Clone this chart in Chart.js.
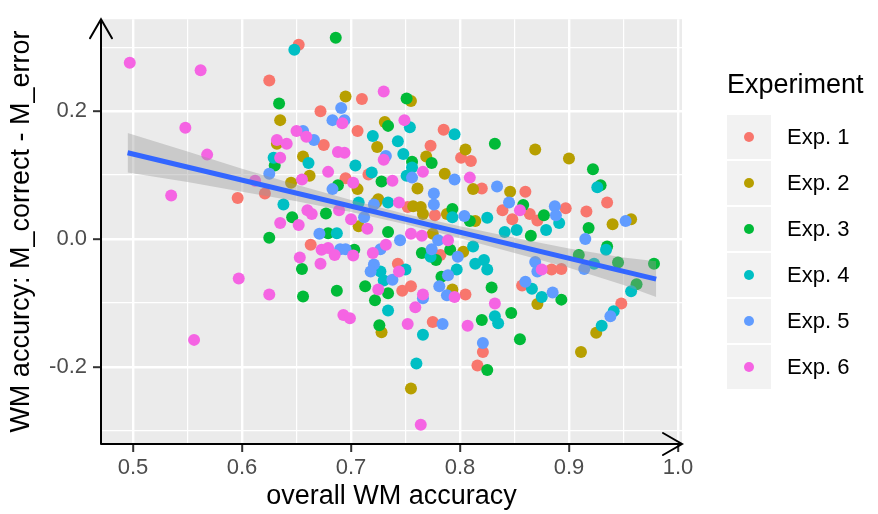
<!DOCTYPE html>
<html>
<head>
<meta charset="utf-8">
<script src="https://cdn.jsdelivr.net/npm/chart.js@4.4.1/dist/chart.umd.min.js"></script>
<style>
  html, body { margin: 0; padding: 0; background: #fff; }
  canvas { display: block; }
</style>
</head>
<body>
<canvas id="wmChart" width="878" height="514"></canvas>
<script>
// values: [overall WM accuracy, M_correct - M_error]
const experiments = ["Exp. 1", "Exp. 2", "Exp. 3", "Exp. 4", "Exp. 5", "Exp. 6"];
const expColors = ["#F8766D", "#B79F00", "#00BA38", "#00BFC4", "#619CFF", "#F564E3"];

const exp1 = [[0.652,0.304],[0.625,0.248],[0.596,0.064],[0.621,0.071],[0.710,0.219],[0.672,0.200],[0.706,0.169],[0.675,0.147],
  [0.716,0.101],[0.695,0.095],[0.663,-0.009],[0.785,0.171],[0.773,0.146],[0.801,0.127],[0.810,0.122],[0.820,0.079],[0.839,0.045],
  [0.848,0.031],[0.860,0.074],[0.864,0.039],[0.871,0.029],[0.897,0.048],[0.916,0.043],[0.935,0.057],[0.884,-0.048],[0.893,-0.047],
  [0.857,-0.073],[0.948,-0.101],[0.743,-0.039],[0.747,-0.081],[0.755,-0.074],[0.775,-0.130],[0.805,-0.087],[0.821,-0.177],
  [0.816,-0.198],[0.752,0.050],[0.777,0.037],[0.782,-0.025]];

const exp2 = [[0.635,0.186],[0.695,0.223],[0.632,0.149],[0.724,0.144],[0.656,0.129],[0.662,0.099],[0.645,0.088],[0.706,0.078],
  [0.707,0.020],[0.725,0.062],[0.728,-0.146],[0.755,0.216],[0.731,0.183],[0.769,0.129],[0.805,0.140],[0.786,0.102],[0.761,0.079],
  [0.812,0.078],[0.846,0.074],[0.723,0.057],[0.757,0.051],[0.764,0.050],[0.766,0.039],[0.788,0.039],[0.814,0.028],[0.869,0.140],
  [0.900,0.126],[0.940,0.023],[0.957,0.031],[0.871,-0.102],[0.925,-0.147],[0.911,-0.177],[0.755,-0.234],[0.775,0.008],
  [0.793,-0.079],[0.803,-0.020]];

const exp3 = [[0.686,0.315],[0.634,0.212],[0.734,0.177],[0.630,0.115],[0.688,0.084],[0.646,0.034],[0.677,0.040],[0.728,0.090],
  [0.625,0.002],[0.679,0.009],[0.703,-0.017],[0.655,-0.047],[0.656,-0.090],[0.687,-0.081],[0.713,-0.074],[0.722,-0.096],
  [0.734,-0.085],[0.726,-0.135],[0.751,0.220],[0.832,0.149],[0.774,0.119],[0.756,0.121],[0.793,0.047],[0.809,0.028],[0.922,0.109],
  [0.929,0.084],[0.858,0.053],[0.877,0.037],[0.918,0.017],[0.865,0.005],[0.935,-0.012],[0.909,-0.025],[0.945,-0.037],
  [0.978,-0.039],[0.893,-0.095],[0.847,-0.116],[0.855,-0.157],[0.962,-0.071],[0.734,0.011],[0.765,-0.022],[0.778,-0.033],
  [0.791,-0.017],[0.783,-0.059],[0.829,-0.076],[0.820,-0.127],[0.825,-0.205]];

const exp4 = [[0.648,0.296],[0.720,0.161],[0.629,0.127],[0.661,0.119],[0.704,0.115],[0.719,0.104],[0.638,0.054],[0.707,0.057],
  [0.734,0.057],[0.687,0.009],[0.727,-0.051],[0.730,-0.065],[0.734,-0.112],[0.754,0.175],[0.795,0.164],[0.743,0.153],[0.748,0.133],
  [0.756,0.112],[0.751,0.099],[0.793,0.034],[0.825,0.033],[0.926,0.081],[0.879,0.014],[0.852,0.014],[0.891,0.025],[0.934,-0.017],
  [0.923,-0.039],[0.866,-0.078],[0.875,-0.091],[0.957,-0.082],[0.941,-0.113],[0.930,-0.136],[0.773,-0.028],[0.797,-0.048],
  [0.814,-0.039],[0.822,-0.033],[0.825,-0.048],[0.750,-0.048],[0.760,-0.195],[0.766,-0.150],[0.812,-0.012],[0.832,-0.121],
  [0.835,-0.132],[0.841,0.011]];

const exp5 = [[0.691,0.205],[0.683,0.186],[0.694,0.186],[0.656,0.169],[0.666,0.155],[0.732,0.130],[0.625,0.102],[0.683,0.078],
  [0.721,0.054],[0.712,0.034],[0.671,0.008],[0.690,-0.016],[0.695,-0.016],[0.721,-0.040],[0.718,-0.051],[0.756,0.096],[0.795,0.093],
  [0.834,0.082],[0.776,0.071],[0.776,0.054],[0.804,0.036],[0.845,0.057],[0.887,0.051],[0.888,0.037],[0.952,0.028],[0.915,0.000],
  [0.914,-0.047],[0.869,-0.036],[0.871,-0.051],[0.860,-0.067],[0.885,-0.084],[0.938,-0.121],[0.745,-0.002],[0.780,-0.002],
  [0.727,-0.016],[0.774,-0.016],[0.798,-0.028],[0.738,-0.064],[0.789,-0.057],[0.781,-0.074],[0.788,-0.088],[0.766,-0.093],
  [0.784,-0.133],[0.821,-0.163]];

const exp6 = [[0.497,0.276],[0.562,0.264],[0.548,0.174],[0.568,0.132],[0.535,0.068],[0.612,0.091],[0.730,0.231],[0.692,0.181],
  [0.650,0.169],[0.659,0.160],[0.632,0.155],[0.641,0.149],[0.688,0.136],[0.694,0.135],[0.635,0.127],[0.730,0.124],[0.679,0.105],
  [0.655,0.093],[0.702,0.088],[0.660,0.045],[0.664,0.039],[0.689,0.045],[0.700,0.031],[0.635,0.025],[0.652,0.022],[0.715,0.016],
  [0.673,-0.017],[0.679,-0.014],[0.685,-0.025],[0.702,-0.026],[0.653,-0.029],[0.672,-0.039],[0.597,-0.062],[0.625,-0.087],
  [0.693,-0.119],[0.699,-0.124],[0.556,-0.158],[0.720,-0.022],[0.725,-0.079],[0.749,0.186],[0.738,0.091],[0.766,0.105],
  [0.809,0.096],[0.744,0.057],[0.855,0.045],[0.875,-0.048],[0.755,0.008],[0.765,0.005],[0.789,-0.002],[0.732,-0.009],
  [0.744,-0.051],[0.766,-0.087],[0.795,-0.091],[0.832,-0.101],[0.759,-0.107],[0.752,-0.133],[0.807,-0.136],[0.764,-0.291]];

// linear fit and its confidence band
const fitX = [0.495, 0.98];
const fitY = [0.135, -0.063];
const bandX = [0.495, 0.55, 0.6, 0.65, 0.7, 0.75, 0.8, 0.85, 0.9, 0.95, 0.98];
const bandUpper = [0.166, 0.137, 0.110, 0.085, 0.061, 0.039, 0.020, 0.002, -0.015, -0.029, -0.035];
const bandLower = [0.104, 0.089, 0.074, 0.059, 0.042, 0.023, 0.001, -0.022, -0.045, -0.072, -0.091];

const xTicks = [0.5, 0.55, 0.6, 0.65, 0.7, 0.75, 0.8, 0.85, 0.9, 0.95, 1.0];
const xTickLabels = ["0.5", "", "0.6", "", "0.7", "", "0.8", "", "0.9", "", "1.0"];
const yTicks = [-0.3, -0.2, -0.1, 0, 0.1, 0.2, 0.3];
const yTickLabels = ["", "-0.2", "", "0.0", "", "0.2", ""];

const FONT = '"Liberation Sans", Arial, sans-serif';
const allExp = [exp1, exp2, exp3, exp4, exp5, exp6];

const datasets = [];
datasets.push({
    type: 'line', label: 'fit',
    data: fitX.map((x, i) => ({ x: x, y: fitY[i] })),
    borderColor: '#3366FF', borderWidth: 5, pointRadius: 0, fill: false, order: 0
});
datasets.push({
    type: 'line', label: 'lower',
    data: bandX.map((x, i) => ({ x: x, y: bandLower[i] })),
    borderWidth: 0, pointRadius: 0, fill: false, order: 1
});
datasets.push({
    type: 'line', label: 'upper',
    data: bandX.map((x, i) => ({ x: x, y: bandUpper[i] })),
    borderWidth: 0, pointRadius: 0, fill: '-1',
    backgroundColor: 'rgba(153,153,153,0.4)', order: 1
});
allExp.forEach((pts, k) => {
    datasets.push({
        type: 'scatter', label: experiments[k],
        data: pts.map(p => ({ x: p[0], y: p[1] })),
        backgroundColor: expColors[k], borderWidth: 0,
        pointRadius: 6, pointHoverRadius: 6, order: 7 - k
    });
});

const ggDecor = {
    id: 'ggDecor',
    beforeDraw(chart) {
        const ctx = chart.ctx, ca = chart.chartArea;
        ctx.save();
        ctx.fillStyle = '#FFFFFF';
        ctx.fillRect(0, 0, chart.width, chart.height);
        ctx.fillStyle = '#EBEBEB';
        ctx.fillRect(ca.left, ca.top, ca.right - ca.left, ca.bottom - ca.top);
        ctx.restore();
    },
    afterDraw(chart) {
        const ctx = chart.ctx, ca = chart.chartArea;
        ctx.save();
        // axis lines with open arrow heads
        ctx.strokeStyle = '#000';
        ctx.lineWidth = 2;
        ctx.lineCap = 'round';
        ctx.beginPath();
        ctx.moveTo(ca.left, ca.bottom);
        ctx.lineTo(ca.left, ca.top);
        ctx.moveTo(ca.left - 11, ca.top + 19);
        ctx.lineTo(ca.left, ca.top);
        ctx.lineTo(ca.left + 11, ca.top + 19);
        ctx.moveTo(ca.left, ca.bottom);
        ctx.lineTo(ca.right, ca.bottom);
        ctx.moveTo(ca.right - 19, ca.bottom - 11);
        ctx.lineTo(ca.right, ca.bottom);
        ctx.lineTo(ca.right - 19, ca.bottom + 11);
        ctx.stroke();

        // axis titles
        ctx.fillStyle = '#000';
        ctx.font = '27px ' + FONT;
        ctx.textAlign = 'center';
        ctx.textBaseline = 'middle';
        ctx.fillText('overall WM accuracy', (ca.left + ca.right) / 2, 497);
        ctx.save();
        ctx.translate(22, (ca.top + ca.bottom) / 2);
        ctx.rotate(-Math.PI / 2);
        ctx.fillText('WM accurcy: M_correct - M_error', 0, 0);
        ctx.restore();

        // legend
        ctx.textAlign = 'left';
        ctx.fillText('Experiment', 727, 86);
        ctx.font = '22px ' + FONT;
        experiments.forEach((name, i) => {
            const top = 115 + i * 46;
            ctx.fillStyle = '#F2F2F2';
            ctx.fillRect(727, top, 44, 44);
            ctx.fillStyle = expColors[i];
            ctx.beginPath();
            ctx.arc(749, top + 22, 5, 0, Math.PI * 2);
            ctx.fill();
            ctx.fillStyle = '#000';
            ctx.fillText(name, 787, top + 23);
        });
        ctx.restore();
    }
};

const wmChartCtx = document.getElementById('wmChart').getContext('2d');
const wmChart = new Chart(wmChartCtx, {
    type: 'scatter',
    data: { datasets: datasets },
    options: {
        responsive: false,
        animation: false,
        layout: { padding: { left: 0, top: 15, right: 196, bottom: 0 } },
        plugins: { legend: { display: false }, tooltip: { enabled: false } },
        scales: {
            x: {
                type: 'linear', min: 0.4706, max: 1.0037,
                afterBuildTicks: s => { s.ticks = xTicks.map(v => ({ value: v })); },
                afterFit: s => { s.height = 70; },
                border: { display: false },
                grid: {
                    color: '#FFFFFF',
                    lineWidth: c => xTickLabels[c.index] ? 2.4 : 1.2,
                    tickLength: 8,
                    tickWidth: 2,
                    tickColor: c => xTickLabels[c.index] ? '#333333' : 'rgba(0,0,0,0)'
                },
                ticks: {
                    autoSkip: false, maxRotation: 0, padding: 3,
                    color: '#4D4D4D', font: { family: FONT, size: 22 },
                    callback: (v, i) => xTickLabels[i]
                }
            },
            y: {
                type: 'linear', min: -0.321, max: 0.344,
                afterBuildTicks: s => { s.ticks = yTicks.map(v => ({ value: v })); },
                afterFit: s => { s.width = 101; },
                border: { display: false },
                grid: {
                    color: '#FFFFFF',
                    lineWidth: c => yTickLabels[c.index] ? 2.4 : 1.2,
                    tickLength: 8,
                    tickWidth: 2,
                    tickColor: c => yTickLabels[c.index] ? '#333333' : 'rgba(0,0,0,0)'
                },
                ticks: {
                    autoSkip: false, padding: 6,
                    color: '#4D4D4D', font: { family: FONT, size: 22 },
                    callback: (v, i) => yTickLabels[i]
                }
            }
        }
    },
    plugins: [ggDecor]
});
</script>
</body>
</html>
